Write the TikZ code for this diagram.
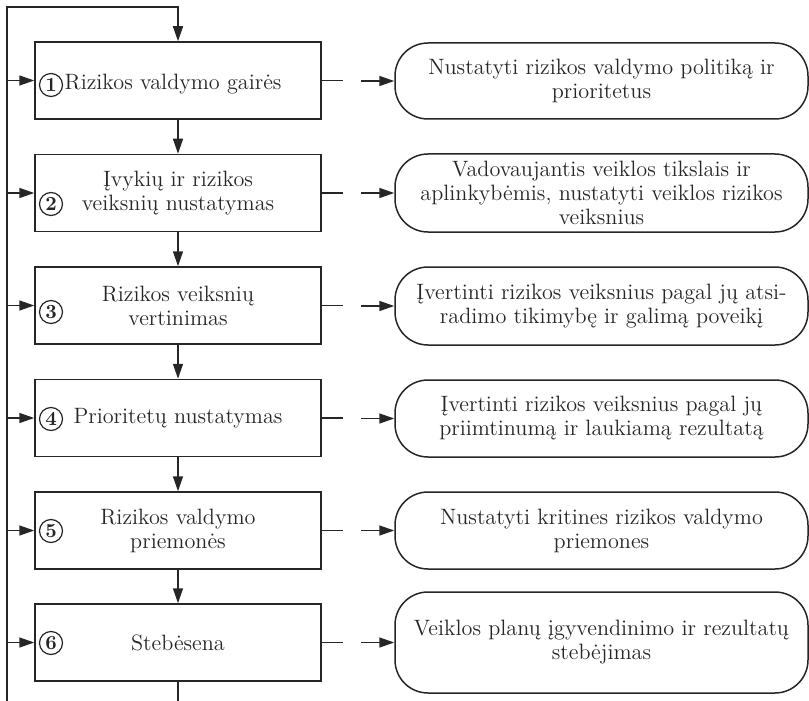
\documentclass[tikz,border=0pt]{standalone}
\usepackage{fontspec}
\usetikzlibrary{arrows.meta,calc}
\definecolor{ink}{HTML}{262626}
\begin{document}
\begin{tikzpicture}[x=0.5pt,y=-0.5pt,
  line width=0.75pt, color=ink,
  font=\fontsize{11.1}{12}\selectfont,
  stepbox/.style={draw=ink, minimum width=143pt, minimum height=38.5pt, inner sep=0pt, align=center},
  goalbox/.style={draw=ink, rounded corners=16.5pt, minimum width=206.5pt, inner sep=0pt, align=center},
  num/.style={circle, draw=ink, line width=0.6pt, minimum size=11.5pt, inner sep=0pt,
              font=\fontsize{10}{10}\bfseries\selectfont},
  arr/.style={-{Triangle[length=7.5pt,width=5pt]}},
]
\useasboundingbox (0,0) rectangle (809,701);

% steps of the process
\node[stepbox] (b1) at (178,80.5) {};
\node[stepbox] (b2) at (178,193) {Įvykių ir rizikos\\veiksnių nustatymas};
\node[stepbox] (b3) at (178,305.5) {Rizikos veiksnių\\vertinimas};
\node[stepbox] (b4) at (178,418) {Prioritetų nustatymas};
\node[stepbox] (b5) at (178,530.5) {Rizikos valdymo\\priemonės};
\node[stepbox] (b6) at (178,642.5) {Stebėsena};
\node[anchor=base west, inner sep=0pt] (t1) at (64,90) {Rizikos valdymo gairės};

% step numbers
\node[num] (n1) at (51,85) {1};
\node[num] (n2) at (51,204) {2};
\node[num] (n3) at (51,312) {3};
\node[num] (n4) at (51,419) {4};
\node[num] (n5) at (51,531) {5};
\node[num] (n6) at (51,643) {6};

% what each step does
\node[goalbox, minimum height=38pt] (r1) at (601.5,81)
  {Nustatyti rizikos valdymo politiką ir\\prioritetus};
\node[goalbox, minimum height=39pt] (r2) at (601.5,193)
  {Vadovaujantis veiklos tikslais ir\\aplinkybėmis, nustatyti veiklos rizikos\\veiksnius};
\node[goalbox, minimum height=39pt] (r3) at (601.5,306)
  {Įvertinti rizikos veiksnius pagal jų atsi-\\radimo tikimybę ir galimą poveikį};
\node[goalbox, minimum height=38.5pt] (r4) at (601.5,418.5)
  {Įvertinti rizikos veiksnius pagal jų\\priimtinumą ir laukiamą rezultatą};
\node[goalbox, minimum height=38.5pt] (r5) at (601.5,530.5)
  {Nustatyti kritines rizikos valdymo\\priemones};
\node[goalbox, minimum height=50.5pt] (r6) at (601.5,642.5)
  {Veiklos planų įgyvendinimo ir rezultatų\\stebėjimas};

% feedback loop on the left
\coordinate (loopbot) at (7,701);
\coordinate (looptop) at (7,7);
\coordinate (flowend) at (178,701);
\draw[arr] (loopbot) -- (looptop) -| (b1.north);
\draw (b6.south) -- (flowend);

% main flow
\foreach \a/\b in {b1/b2,b2/b3,b3/b4,b4/b5,b5/b6}
  \draw[arr] (\a.south) -- (\b.north);

% inputs from the loop and links to the goals
\foreach \i in {1,...,6}{
  \draw[arr] (b\i.west -| loopbot) -- (b\i.west);
  \draw (b\i.east) -- ++(21,0);
  \draw[arr] ($(r\i.west)+(-33,0)$) -- (r\i.west);
}
\end{tikzpicture}
\end{document}
